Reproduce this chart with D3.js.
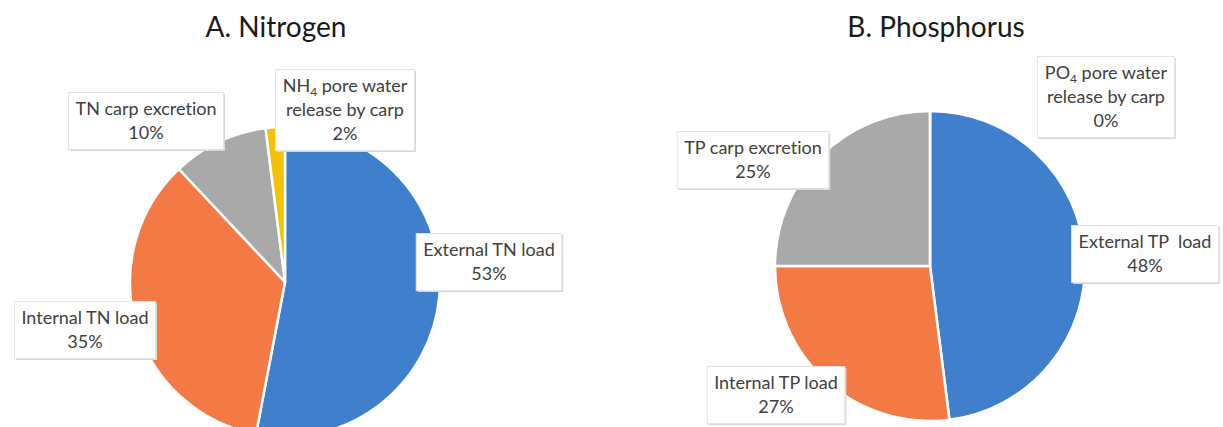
<!DOCTYPE html>
<html>
<head>
<meta charset="utf-8">
<script src="https://cdn.jsdelivr.net/npm/d3@7"></script>
<style>
  body { margin: 0; background: #fff; }
  text { font-family: Lato, "Open Sans", sans-serif; font-variant-ligatures: none; }
  .title { font-size: 28px; fill: #1a1a1a; }
  .lbl { font-size: 18px; fill: #404040; white-space: pre; }
</style>
</head>
<body>
<div id="chart"></div>
<script>
(function() {
    var width = 1223,
        height = 427;

    // chart data
    var titles = ["A. Nitrogen", "B. Phosphorus"];
    var nitrogenNames = ["External TN load", "Internal TN load", "TN carp excretion", "NH4 pore water release by carp"];
    var nitrogenValues = [53, 35, 10, 2];
    var phosphorusNames = ["External TP  load", "Internal TP load", "TP carp excretion", "PO4 pore water release by carp"];
    var phosphorusValues = [48, 27, 25, 0];

    // label text lines ("|" marks a subscript)
    var nitrogenLines = [["External TN load"], ["Internal TN load"], ["TN carp excretion"], ["NH|4| pore water", "release by carp"]];
    var phosphorusLines = [["External TP  load"], ["Internal TP load"], ["TP carp excretion"], ["PO|4| pore water", "release by carp"]];

    var colors = ["#3f7fcb", "#f47a45", "#a9a9a9", "#f5c200"];

    // layout: pie centre, radius and label box centres relative to pie centre
    var pies = [
        { cx: 285, cy: 282, r: 155, titleX: 276, names: nitrogenNames, values: nitrogenValues, lines: nitrogenLines,
          labelPos: [[204, -20], [-200, 48], [-139, -161], [60, -172]] },
        { cx: 930, cy: 266, r: 155, titleX: 936, names: phosphorusNames, values: phosphorusValues, lines: phosphorusLines,
          labelPos: [[215, -12], [-154, 129], [-177, -106], [176, -169]] }
    ];

    var svg = d3.select("#chart")
        .append("svg")
        .attr("width", width)
        .attr("height", height);

    var pie = d3.pie().sort(null).value(function(d) { return d; });
    var arc = d3.arc().innerRadius(0);

    pies.forEach(function(p, i) {
        svg.append("text")
            .attr("class", "title")
            .attr("x", p.titleX)
            .attr("y", 37)
            .attr("text-anchor", "middle")
            .text(titles[i]);

        var g = svg.append("g")
            .attr("transform", "translate(" + p.cx + "," + p.cy + ")");

        arc.outerRadius(p.r);

        g.selectAll(".slice")
            .data(pie(p.values))
            .enter().append("path")
            .attr("class", "slice")
            .attr("d", arc)
            .style("fill", function(d, j) { return colors[j]; })
            .style("stroke", "#fff")
            .style("stroke-width", 2.5)
            .style("stroke-linejoin", "round");

        // data labels
        p.values.forEach(function(v, j) {
            var lines = p.lines[j].concat([v + "%"]);
            var lg = g.append("g")
                .attr("transform", "translate(" + p.labelPos[j][0] + "," + p.labelPos[j][1] + ")");
            var shadow = lg.append("rect");
            var box = lg.append("rect");
            var lineH = 24;
            var t = lg.append("text")
                .attr("class", "lbl")
                .attr("text-anchor", "middle");
            lines.forEach(function(line, k) {
                var row = t.append("tspan")
                    .attr("x", 0)
                    .attr("y", (k - (lines.length - 1) / 2) * lineH + 6);
                var parts = line.split("|");
                if (parts.length === 3) {
                    row.text(parts[0]);
                    t.append("tspan").attr("dy", 4).style("font-size", "12px").text(parts[1]);
                    t.append("tspan").attr("dy", -4).text(parts[2]);
                } else {
                    row.text(line);
                }
            });
            var bb = t.node().getBBox();
            var bw = bb.width + 14,
                bh = lines.length * lineH + 9;
            box.attr("x", -bw / 2).attr("y", -bh / 2)
                .attr("width", bw).attr("height", bh)
                .style("fill", "#fff")
                .style("stroke", "#e4e4e4")
                .style("stroke-width", 1);
            shadow.attr("x", -bw / 2 + 1.5).attr("y", -bh / 2 + 1.5)
                .attr("width", bw).attr("height", bh)
                .style("fill", "#d8d8d8");
        });
    });
})();
</script>
</body>
</html>
